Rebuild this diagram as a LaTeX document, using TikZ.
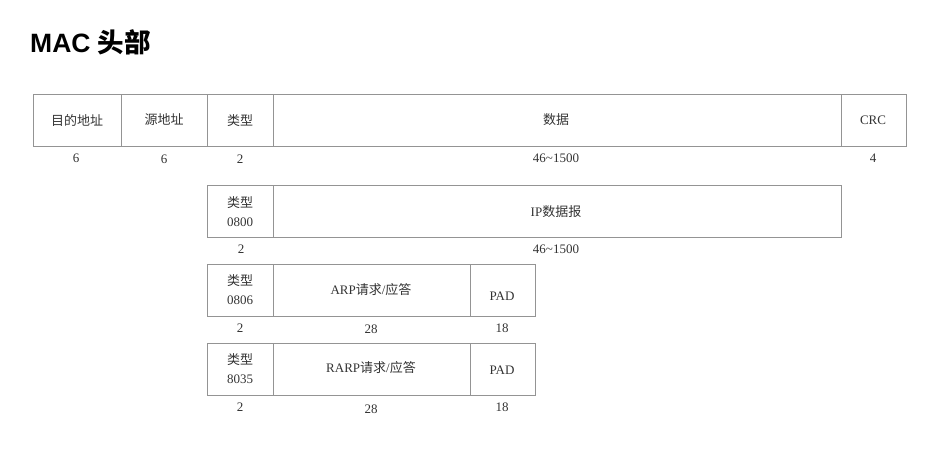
\documentclass[tikz,border=0pt]{standalone}
\usepackage{fontspec}
\setmainfont{Liberation Serif}
\newfontfamily\cjk{Noto Sans CJK SC}
\newfontfamily\titlefont{Liberation Sans}[BoldFont={Liberation Sans Bold}]
\newfontfamily\cjktitle{Noto Sans CJK SC Bold}
\begin{document}
\begin{tikzpicture}[x=1pt,y=-1pt,
  cell/.style={draw=black!42, line width=0.8pt},
  lbl/.style={text=black!80, font=\fontsize{13}{19}\selectfont, align=center, inner sep=0pt},
  num/.style={text=black!80, font=\fontsize{13}{15}\selectfont, inner sep=0pt}]
\useasboundingbox (0,0) rectangle (952,452);
\node[anchor=west, inner sep=0pt, font=\fontsize{26.5}{30}\selectfont\bfseries] (title) at (30,42) {\titlefont\bfseries MAC {\cjktitle 头部}};
% row 1
\draw[cell] (33,94) rectangle (906,146);
\foreach \x in {121,207,273,841} \draw[cell] (\x,94) -- (\x,146);
\node[lbl] (r1a) at (77,120) {\cjk 目的地址};
\node[lbl] (r1b) at (164,120) {\cjk 源地址};
\node[lbl] (r1c) at (240,121) {\cjk 类型};
\node[lbl] (r1d) at (556,120) {\cjk 数据};
\node[lbl] (r1e) at (873,120) {CRC};
\node[num] (n1a) at (76,158) {6};
\node[num] (n1b) at (164,159) {6};
\node[num] (n1c) at (240,159) {2};
\node[num] (n1d) at (556,158) {46\textasciitilde1500};
\node[num] (n1e) at (873,158) {4};
% row 2
\draw[cell] (207,185) rectangle (841,237);
\draw[cell] (273,185) -- (273,237);
\node[lbl] (r2a) at (240,212) {{\cjk 类型}\\0800};
\node[lbl] (r2b) at (556,212) {IP{\cjk 数据报}};
\node[num] (n2a) at (241,249) {2};
\node[num] (n2b) at (556,249) {46\textasciitilde1500};
% row 3
\draw[cell] (207,264) rectangle (535,316);
\foreach \x in {273,470} \draw[cell] (\x,264) -- (\x,316);
\node[lbl] (r3a) at (240,290) {{\cjk 类型}\\0806};
\node[lbl] (r3b) at (371,290) {ARP{\cjk 请求}/{\cjk 应答}};
\node[lbl] (r3c) at (502,296) {PAD};
\node[num] (n3a) at (240,328) {2};
\node[num] (n3b) at (371,329) {28};
\node[num] (n3c) at (502,328) {18};
% row 4
\draw[cell] (207,343) rectangle (535,395);
\foreach \x in {273,470} \draw[cell] (\x,343) -- (\x,395);
\node[lbl] (r4a) at (240,369) {{\cjk 类型}\\8035};
\node[lbl] (r4b) at (371,368) {RARP{\cjk 请求}/{\cjk 应答}};
\node[lbl] (r4c) at (502,370) {PAD};
\node[num] (n4a) at (240,407) {2};
\node[num] (n4b) at (371,409) {28};
\node[num] (n4c) at (502,407) {18};
\end{tikzpicture}
\end{document}
